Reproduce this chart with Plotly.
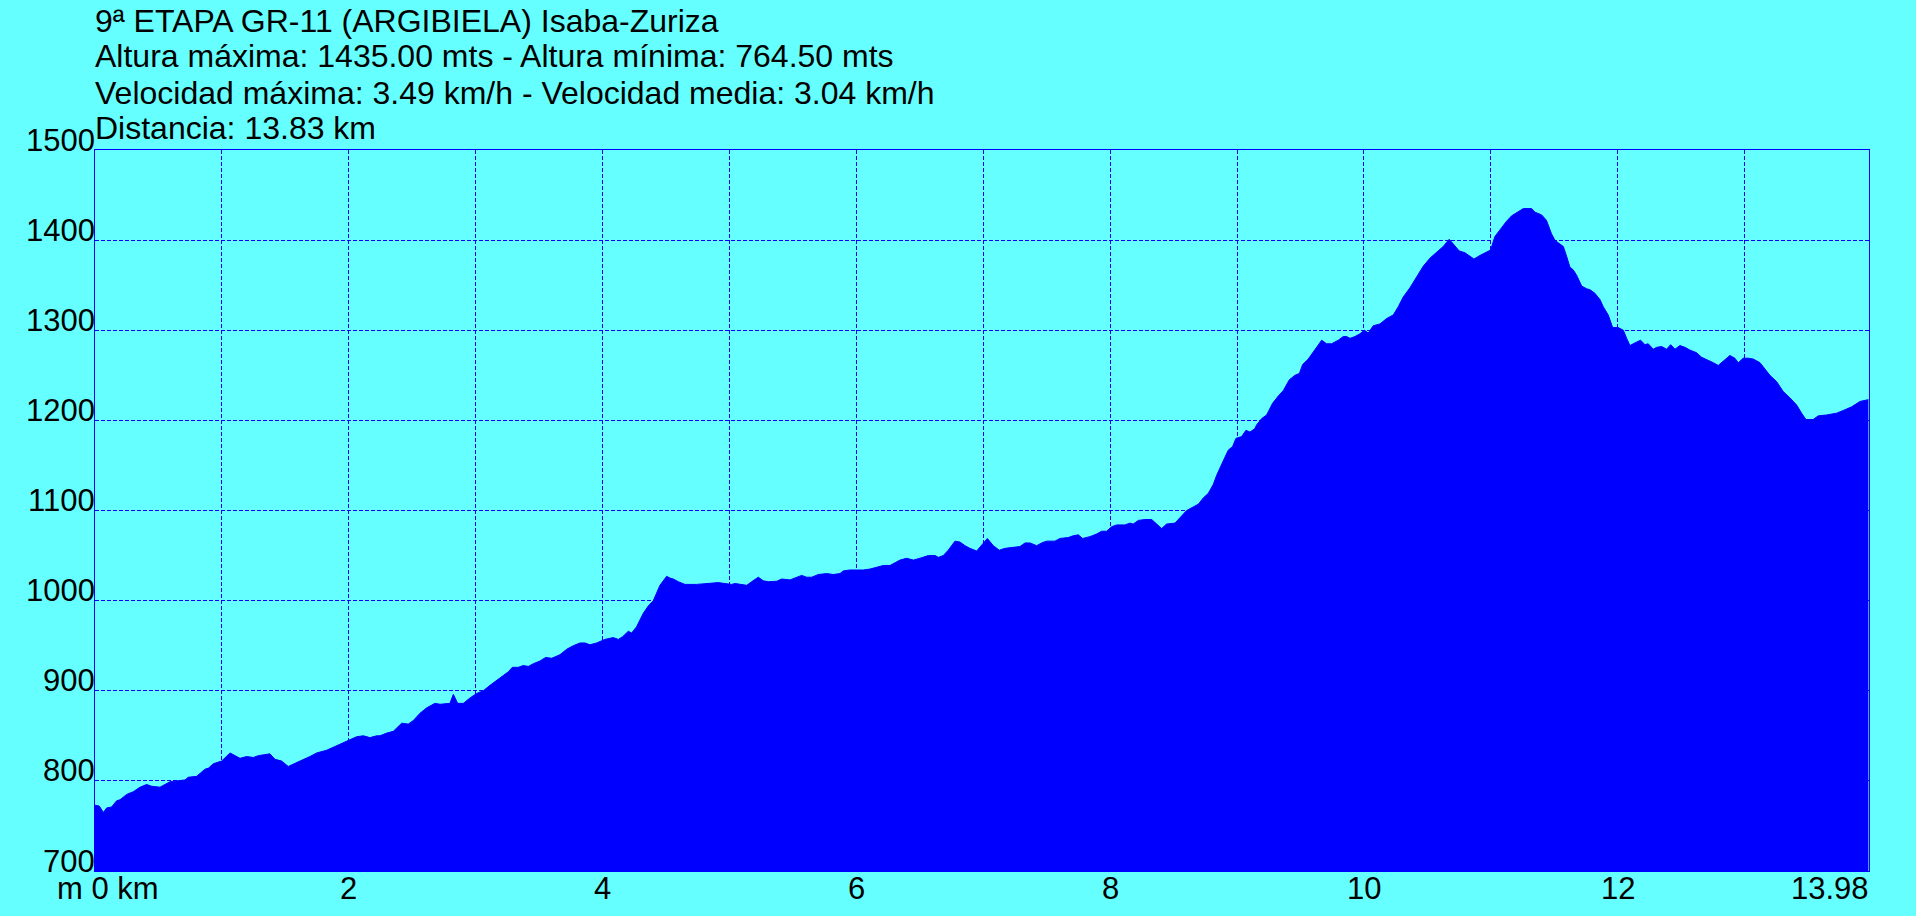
import plotly.graph_objects as go

dist_km = [
    0.000, 0.034, 0.066, 0.092, 0.131, 0.171, 0.197, 0.250, 0.302, 0.355,
    0.407, 0.447, 0.512, 0.591, 0.644, 0.709, 0.735, 0.801, 0.867, 0.893,
    0.932, 0.998, 1.064, 1.103, 1.143, 1.195, 1.248, 1.287, 1.379, 1.418,
    1.471, 1.523, 1.563, 1.615, 1.694, 1.747, 1.826, 1.904, 1.983, 2.062,
    2.115, 2.167, 2.220,
    2.246, 2.299, 2.351, 2.417, 2.469, 2.509, 2.561, 2.614, 2.679, 2.719,
    2.797, 2.824, 2.858, 2.903, 2.955, 3.008, 3.060, 3.113, 3.165, 3.218,
    3.257, 3.289, 3.336, 3.375, 3.415, 3.454, 3.507, 3.551, 3.599, 3.664,
    3.717, 3.769, 3.822, 3.861, 3.901, 3.953, 4.019, 4.084, 4.124, 4.158,
    4.203, 4.229, 4.268, 4.321, 4.360, 4.400, 4.452, 4.505,
    4.531, 4.557, 4.597, 4.649, 4.741, 4.820, 4.912, 4.964, 5.017, 5.044,
    5.096, 5.136, 5.175, 5.227, 5.267, 5.306, 5.372, 5.411, 5.477, 5.530,
    5.569, 5.608, 5.648, 5.700, 5.766, 5.818, 5.871, 5.897, 5.950, 6.002,
    6.055, 6.107, 6.173, 6.212, 6.265, 6.344, 6.396, 6.449, 6.501, 6.567,
    6.620, 6.646, 6.685, 6.724, 6.777,
    6.816, 6.856, 6.895, 6.948, 6.974, 7.032, 7.079, 7.126, 7.171, 7.224,
    7.289, 7.329, 7.368, 7.421, 7.460, 7.499, 7.565, 7.604, 7.670, 7.709,
    7.749, 7.783, 7.841, 7.894, 7.933, 7.972, 8.012, 8.051, 8.117, 8.156,
    8.182, 8.222, 8.274, 8.327, 8.371, 8.406, 8.445, 8.511, 8.550, 8.603,
    8.655, 8.695, 8.734, 8.773, 8.813, 8.839, 8.891, 8.931, 8.965, 8.991,
    9.036, 9.070, 9.102, 9.141,
    9.154, 9.194, 9.233, 9.280, 9.325, 9.364, 9.412, 9.456, 9.491, 9.517,
    9.561, 9.596, 9.627, 9.667, 9.706, 9.745, 9.798, 9.837, 9.864, 9.890,
    9.929, 9.968, 10.003, 10.034, 10.073, 10.126, 10.179, 10.231, 10.270, 10.310,
    10.362, 10.415, 10.467, 10.520, 10.572, 10.625, 10.672, 10.704, 10.751, 10.796,
    10.835, 10.867, 10.914, 10.967, 10.998, 11.032, 11.072, 11.124, 11.164, 11.216,
    11.256, 11.321, 11.348, 11.400, 11.438,
    11.478, 11.505, 11.531, 11.571, 11.597, 11.623, 11.649, 11.676, 11.716, 11.755,
    11.781, 11.820, 11.860, 11.886, 11.925, 11.960, 12.004, 12.044, 12.070, 12.096,
    12.122, 12.149, 12.180, 12.214, 12.240, 12.280, 12.306, 12.346, 12.385, 12.417,
    12.451, 12.490, 12.530, 12.569, 12.622, 12.661, 12.713, 12.753, 12.792, 12.831,
    12.884, 12.923, 12.950, 12.989, 13.029, 13.068, 13.121, 13.160, 13.199, 13.252,
    13.304, 13.357, 13.410, 13.449, 13.483, 13.540, 13.580, 13.646, 13.685, 13.725,
    13.777, 13.843, 13.909, 13.975,
]

elev_m = [
    773, 772, 765, 770, 771, 778, 779, 785, 788, 793,
    796, 794, 793, 799, 800, 801, 804, 805, 813, 814,
    819, 822, 831, 828, 825, 827, 826, 828, 830, 824,
    822, 816, 819, 822, 827, 831, 834, 839, 844, 849,
    850, 848, 850,
    850, 853, 855, 864, 863, 867, 875, 881, 886, 885,
    886, 896, 886, 886, 892, 897, 900, 906, 911, 917,
    921, 926, 926, 928, 927, 930, 933, 937, 936, 940,
    946, 950, 953, 953, 951, 953, 957, 959, 957, 960,
    966, 964, 971, 986, 994, 1000, 1017, 1027,
    1025, 1024, 1021, 1018, 1018, 1019, 1020, 1019, 1018, 1019,
    1018, 1017, 1021, 1026, 1022, 1021, 1021.5, 1024, 1023, 1026,
    1028, 1026, 1026, 1029, 1030, 1029, 1030, 1033, 1034, 1034,
    1034, 1035, 1037, 1039, 1039, 1045, 1047, 1045, 1047, 1050,
    1050, 1048, 1050, 1056, 1066,
    1065, 1061, 1058, 1055, 1059, 1069, 1061, 1056, 1058, 1059,
    1060, 1064, 1064, 1061, 1064, 1066, 1066, 1069, 1070, 1072,
    1073, 1069, 1071, 1074, 1077, 1077, 1082, 1084, 1084, 1086,
    1085, 1089, 1090, 1090, 1085, 1080, 1085, 1086, 1092, 1100,
    1104, 1107, 1114, 1119, 1129, 1139, 1155, 1167, 1171, 1180,
    1182, 1189, 1187, 1191,
    1195, 1202, 1206, 1219, 1227, 1233, 1245, 1250, 1252, 1262,
    1268, 1275, 1280, 1289, 1285, 1285, 1289, 1293, 1293, 1291,
    1293, 1296, 1300, 1297, 1305, 1307, 1313, 1317, 1326, 1337,
    1347, 1359, 1371, 1380, 1387, 1393, 1401, 1396, 1388, 1386,
    1382, 1379, 1383, 1387, 1389, 1404, 1412, 1421, 1427, 1432,
    1435, 1435, 1431, 1428, 1422,
    1407, 1400, 1397, 1393, 1382, 1370, 1367, 1361, 1349, 1346,
    1345, 1341, 1334, 1326, 1317, 1303, 1303, 1300, 1291, 1283,
    1285, 1287, 1289, 1284, 1285, 1279, 1281, 1282, 1279, 1284,
    1279, 1283, 1281, 1278, 1275, 1270, 1267, 1264, 1261, 1266,
    1272, 1269, 1264, 1269, 1269, 1268, 1264, 1257, 1250, 1243,
    1232, 1225, 1217, 1208, 1201, 1201, 1205, 1206, 1207, 1208,
    1211, 1215, 1221, 1223,
]

y_tick_values = [700, 800, 900, 1000, 1100, 1200, 1300, 1400, 1500]
x_grid_values = [1, 2, 3, 4, 5, 6, 7, 8, 9, 10, 11, 12, 13]
x_label_values = [2, 4, 6, 8, 10, 12]
x_max = 13.98
x_start_label = "m 0 km"
x_end_label = "13.98"

title_lines = [
    "9ª ETAPA GR-11 (ARGIBIELA) Isaba-Zuriza",
    "Altura máxima: 1435.00 mts - Altura mínima: 764.50 mts",
    "Velocidad máxima: 3.49 km/h - Velocidad media: 3.04 km/h",
    "Distancia: 13.83 km",
]

# ---- styling ----
BG = "#66FFFF"
BLUE = "#0000FF"
FONT = "Arial, Liberation Sans, sans-serif"
W, H = 1916, 916
L, R, T, B = 95, 47, 150, 45
TICK_SIZE = 31
TITLE_SIZE = 32

fig = go.Figure(
    go.Scatter(
        x=dist_km, y=elev_m, mode="lines", fill="tozeroy",
        fillcolor=BLUE, line=dict(color=BLUE, width=1), hoverinfo="skip",
    )
)

fig.update_layout(
    width=W, height=H,
    margin=dict(l=L, r=R, t=T, b=B, pad=0),
    paper_bgcolor=BG, plot_bgcolor=BG,
    showlegend=False,
    font=dict(family=FONT, color="black"),
)

grid_common = dict(
    showgrid=True, gridcolor=BLUE, gridwidth=1, griddash="4px,2px",
    showline=True, linecolor=BLUE, linewidth=1, mirror=True,
    zeroline=False, ticks="", showticklabels=False, fixedrange=True,
)
fig.update_xaxes(range=[0, x_max], tickvals=x_grid_values, **grid_common)
fig.update_yaxes(range=[700, 1500], tickvals=y_tick_values[1:-1], **grid_common)

annotations = []
# y tick labels (baseline sits on the gridline)
for v in y_tick_values:
    annotations.append(dict(
        x=0, xref="paper", xanchor="right", xshift=1,
        y=v, yref="y", yanchor="middle", yshift=10,
        text=str(v), showarrow=False, borderpad=0,
        font=dict(size=TICK_SIZE, color="black", family=FONT),
    ))
# x tick labels
for v in x_label_values:
    annotations.append(dict(
        x=v, xref="x", xanchor="center",
        y=0, yref="paper", yanchor="middle", yshift=-17,
        text=str(v), showarrow=False, borderpad=0,
        font=dict(size=TICK_SIZE, color="black", family=FONT),
    ))
annotations.append(dict(
    x=0, xref="x", xanchor="center", xshift=13,
    y=0, yref="paper", yanchor="middle", yshift=-17,
    text=x_start_label, showarrow=False, borderpad=0,
    font=dict(size=TICK_SIZE, color="black", family=FONT),
))
annotations.append(dict(
    x=x_max, xref="x", xanchor="right", xshift=1,
    y=0, yref="paper", yanchor="middle", yshift=-17,
    text=x_end_label, showarrow=False, borderpad=0,
    font=dict(size=TICK_SIZE, color="black", family=FONT),
))
# title lines
title_centers_px = [21, 56, 93, 128]
for line, py in zip(title_lines, title_centers_px):
    annotations.append(dict(
        x=0, xref="paper", xanchor="left", xshift=-1,
        y=1, yref="paper", yanchor="middle", yshift=T - py,
        text=line, showarrow=False, borderpad=0,
        font=dict(size=TITLE_SIZE, color="black", family=FONT),
    ))

fig.update_layout(annotations=annotations)

fig.write_html(
    "out.html",
    config={"displayModeBar": False},
    post_script="document.body.style.margin='0';document.body.style.background='#66FFFF';",
)
